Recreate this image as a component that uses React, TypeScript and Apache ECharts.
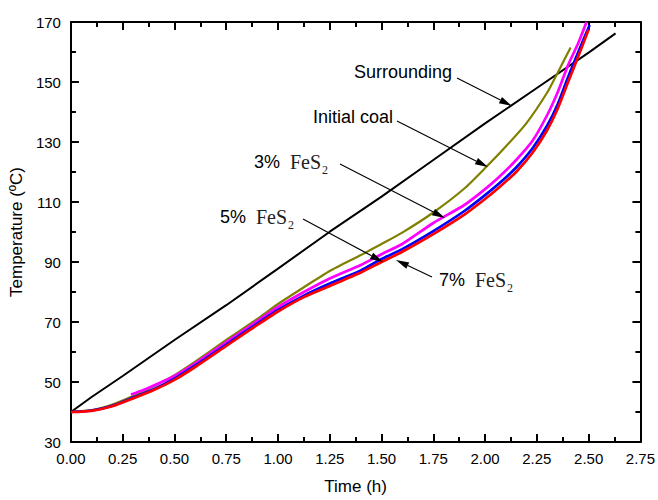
import React, { useEffect, useRef } from 'react';
import * as echarts from 'echarts';

// ---- data ----
const surroundX = [0, 0.1, 0.25, 0.5, 0.75, 1.0, 1.25, 1.5, 1.75, 2.0, 2.25, 2.5, 2.63];
const surroundY = [40, 45, 52.0, 64.0, 75.6, 87.8, 100.1, 111.8, 124.0, 136.2, 148.0, 159.8, 166.2];

const coalX = [0, 0.1, 0.2, 0.3, 0.4, 0.5, 0.6, 0.75, 0.9, 1.0, 1.125, 1.25, 1.4, 1.5, 1.6, 1.75, 1.9, 2.0, 2.1, 2.2, 2.3, 2.35, 2.413];
const coalY = [40, 40.6, 42.5, 45.3, 48.6, 52.3, 56.8, 64.0, 71.0, 76.0, 81.6, 87.0, 92.3, 96.0, 99.8, 106.5, 114.5, 121.3, 128.5, 136.3, 146.5, 153.0, 161.5];

const fes3X = [0.29, 0.35, 0.4, 0.5, 0.6, 0.75, 0.9, 1.0, 1.125, 1.25, 1.4, 1.5, 1.6, 1.75, 1.9, 2.0, 2.07, 2.15, 2.23, 2.3, 2.35, 2.4, 2.45, 2.49];
const fes3Y = [45.8, 47.3, 48.8, 52.0, 56.2, 63.3, 70.3, 75.0, 80.0, 84.5, 89.0, 92.6, 96.0, 103.0, 109.0, 114.3, 118.5, 124.0, 130.5, 139.0, 146.5, 155.5, 163.0, 170.0];

const fes5X = [0, 0.1, 0.2, 0.3, 0.4, 0.5, 0.6, 0.75, 0.9, 1.0, 1.125, 1.25, 1.4, 1.5, 1.6, 1.75, 1.9, 2.0, 2.07, 2.15, 2.23, 2.3, 2.35, 2.4, 2.45, 2.505];
const fes5Y = [40, 40.5, 42.1, 44.8, 47.6, 51.1, 55.5, 62.5, 69.5, 74.0, 78.8, 82.8, 87.2, 91.0, 94.3, 100.3, 107.0, 112.3, 116.3, 121.5, 128.0, 135.5, 142.5, 151.5, 160.0, 169.0];

const fes7X = [0, 0.1, 0.2, 0.3, 0.4, 0.5, 0.6, 0.75, 0.9, 1.0, 1.125, 1.25, 1.4, 1.5, 1.6, 1.75, 1.9, 2.0, 2.07, 2.15, 2.23, 2.3, 2.35, 2.4, 2.45, 2.5];
const fes7Y = [40, 40.4, 41.9, 44.5, 47.3, 50.7, 55.0, 62.0, 69.0, 73.5, 78.3, 82.0, 86.5, 90.0, 93.4, 99.3, 105.8, 111.0, 115.0, 120.0, 126.5, 134.0, 141.0, 149.8, 158.5, 167.5];

const X_MIN = 0;
const X_MAX = 2.75;
const X_STEP = 0.25;
const Y_MIN = 30;
const Y_MAX = 170;
const Y_STEP = 20;

const SANS = '"Liberation Sans", Arial, Helvetica, sans-serif';
const SERIF = '"Liberation Serif", "Times New Roman", serif';

function pairs(xs: number[], ys: number[]) {
  // y values are offset by Y_MIN so that ticks start at 30 with a step of 20
  return xs.map((x, i) => [x, ys[i] - Y_MIN]);
}

function arrow(x1: number, y1: number, x2: number, y2: number) {
  const dx = x2 - x1;
  const dy = y2 - y1;
  const len = Math.sqrt(dx * dx + dy * dy);
  const ux = dx / len;
  const uy = dy / len;
  const hl = 13;
  const hw = 3.5;
  const bx = x2 - ux * hl;
  const by = y2 - uy * hl;
  return [
    {
      type: 'line',
      shape: { x1, y1, x2: bx, y2: by },
      style: { stroke: '#000', lineWidth: 1.1 },
      z: 100,
    },
    {
      type: 'polygon',
      shape: {
        points: [
          [x2, y2],
          [bx - uy * hw, by + ux * hw],
          [bx + uy * hw, by - ux * hw],
        ],
      },
      style: { fill: '#000' },
      z: 100,
    },
  ];
}

function label(text: string, x: number, y: number) {
  return {
    type: 'text',
    x,
    y,
    z: 100,
    style: {
      text,
      font: `18px ${SANS}`,
      fill: '#000',
      textAlign: 'left',
      textVerticalAlign: 'middle',
    },
  };
}

function fesLabel(pct: string, x: number, y: number) {
  return [
    label(pct, x, y),
    {
      type: 'text',
      x: x + 36,
      y,
      z: 100,
      style: {
        text: 'FeS',
        font: `20px ${SERIF}`,
        fill: '#222',
        textAlign: 'left',
        textVerticalAlign: 'middle',
      },
    },
    {
      type: 'text',
      x: x + 68,
      y: y + 8,
      z: 100,
      style: {
        text: '2',
        font: `12px ${SERIF}`,
        fill: '#222',
        textAlign: 'left',
        textVerticalAlign: 'middle',
      },
    },
  ];
}

export default function App() {
  const ref = useRef<HTMLDivElement>(null);

  useEffect(() => {
    document.body.style.margin = '0';
    if (!ref.current) return;
    const chart = echarts.init(ref.current, null, { renderer: 'svg' });

    const axisCommon = {
      axisLine: { show: true, onZero: false, lineStyle: { color: '#000', width: 2 } },
      axisTick: { show: true, inside: true, length: 8, lineStyle: { color: '#000', width: 2 } },
      minorTick: { show: true, splitNumber: 2, length: 5, lineStyle: { color: '#000', width: 2 } },
      splitLine: { show: false },
      minorSplitLine: { show: false },
    };

    const xAxisBase = {
      type: 'value',
      min: X_MIN,
      max: X_MAX,
      interval: X_STEP,
      ...axisCommon,
    };
    const yAxisBase = {
      type: 'value',
      min: 0,
      max: Y_MAX - Y_MIN,
      interval: Y_STEP,
      ...axisCommon,
    };

    const lineCommon = {
      type: 'line',
      showSymbol: false,
      symbol: 'none',
      smooth: 0.2,
    };

    const option = {
      animation: false,
      backgroundColor: '#fff',
      grid: { left: 70, right: 17, top: 22, bottom: 54, containLabel: false },
      xAxis: [
        {
          ...xAxisBase,
          position: 'bottom',
          name: 'Time (h)',
          nameLocation: 'middle',
          nameGap: 36,
          nameTextStyle: { fontFamily: SANS, fontSize: 17, color: '#000' },
          axisLabel: {
            show: true,
            margin: 9,
            fontFamily: SANS,
            fontSize: 15,
            color: '#000',
            formatter: (v: number) => v.toFixed(2),
          },
        },
        {
          ...xAxisBase,
          position: 'top',
          axisLabel: { show: false },
        },
      ],
      yAxis: [
        {
          ...yAxisBase,
          position: 'left',
          name: 'Temperature (ºC)',
          nameLocation: 'middle',
          nameGap: 43,
          nameTextStyle: { fontFamily: SANS, fontSize: 17, color: '#000' },
          axisLabel: {
            show: true,
            margin: 10,
            fontFamily: SANS,
            fontSize: 15,
            color: '#000',
            formatter: (v: number) => String(Math.round(v + Y_MIN)),
          },
        },
        {
          ...yAxisBase,
          position: 'right',
          axisLabel: { show: false },
        },
      ],
      series: [
        {
          ...lineCommon,
          name: 'Surrounding',
          data: pairs(surroundX, surroundY),
          smooth: false,
          lineStyle: { color: '#000000', width: 2 },
          z: 2,
        },
        {
          ...lineCommon,
          name: 'Initial coal',
          data: pairs(coalX, coalY),
          lineStyle: { color: '#808000', width: 2.2 },
          z: 3,
        },
        {
          ...lineCommon,
          name: '3% FeS2',
          data: pairs(fes3X, fes3Y),
          lineStyle: { color: '#ff00ff', width: 2.7 },
          z: 4,
        },
        {
          ...lineCommon,
          name: '5% FeS2',
          data: pairs(fes5X, fes5Y),
          lineStyle: { color: '#0000ff', width: 2.7 },
          z: 5,
        },
        {
          ...lineCommon,
          name: '7% FeS2',
          data: pairs(fes7X, fes7Y),
          lineStyle: { color: '#ff0000', width: 2.7 },
          z: 6,
        },
      ],
      graphic: [
        label('Surrounding', 354, 72),
        ...arrow(457, 78, 512, 106),
        label('Initial coal', 313, 117),
        ...arrow(397, 121, 488, 167),
        ...fesLabel('3%', 254, 162),
        ...arrow(340, 164, 445, 218),
        ...fesLabel('5%', 220, 217),
        ...arrow(303, 219, 383, 262),
        ...fesLabel('7%', 439, 280),
        ...arrow(432, 277, 396, 260),
      ],
    };

    chart.setOption(option as any);
    return () => {
      chart.dispose();
    };
  }, []);

  return <div ref={ref} style={{ width: 658, height: 500 }} />;
}
